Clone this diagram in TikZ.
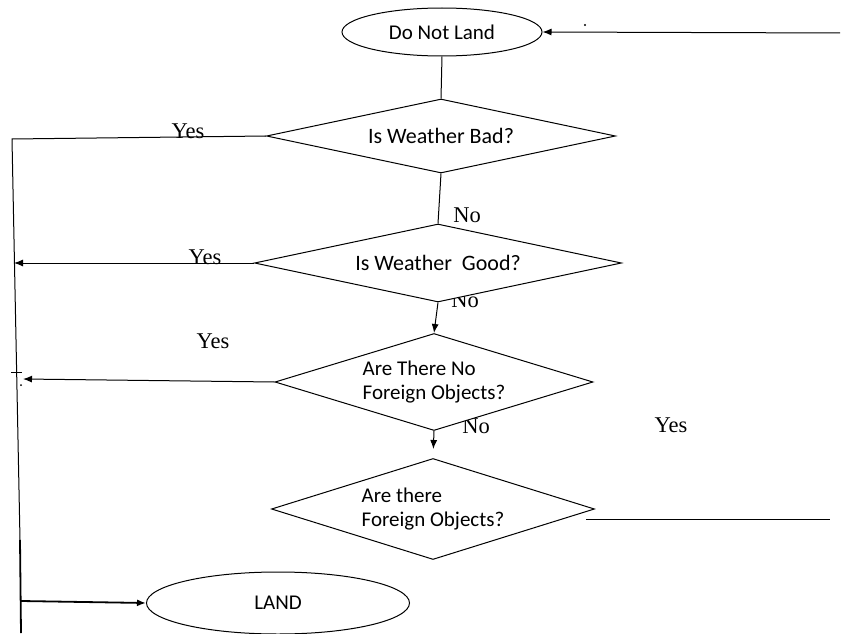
\documentclass[tikz,border=0pt]{standalone}
\usepackage{fontspec}
\setmainfont{Liberation Serif}
\newfontfamily\boxfont{Carlito}
\usetikzlibrary{shapes.geometric, arrows.meta}

\tikzset{
	vopros/.style={diamond, draw, fill=white, aspect=3.3, inner sep=0pt, align=left, font=\boxfont\fontsize{21}{24}\selectfont},
	oval/.style={ellipse, draw, fill=white, inner sep=0pt, font=\boxfont\fontsize{21}{24}\selectfont},
	metka/.style={inner sep=0pt, font=\fontsize{22.5}{26}\selectfont},
	strelka/.style={-{Latex[length=9pt,width=7pt]}}
}

\begin{document}
\begin{tikzpicture}[x=1pt, y=-1pt, line width=1pt]
				\useasboundingbox (0,0) rectangle (841,634);
				
				% Подписи, частично закрытые ромбами
				\node[metka] (no2) at (465,300) {No};
				\node[metka] (no3) at (476,426) {No};
				
				% Овалы и ромбы
				\node[oval, minimum width=200, minimum height=48] (nezemlya) at (442,32) {Do Not Land};
				\node[vopros, minimum width=349, minimum height=74, font=\boxfont\fontsize{22}{24}\selectfont] (v1) at (441,136) {Is Weather Bad?};
				\node[vopros, minimum width=367, minimum height=78, font=\boxfont\fontsize{22}{24}\selectfont] (v2) at (438,263) {Is Weather\ \ Good?};
				\node[vopros, minimum width=318, minimum height=97] (v3) at (434,382) {Are There No\\Foreign Objects?};
				\node[vopros, minimum width=323, minimum height=101] (v4) at (433,509) {Are there\\Foreign Objects?};
				\node[oval, minimum width=263, minimum height=62] (zemlya) at (278,603) {LAND};
				
				% Определение координат концов линий
				\coordinate (vhod) at (840,33);
				\coordinate (verh) at (12,139);
				\coordinate (tochka2) at (14,263);
				\coordinate (tochka3) at (23,379);
				\coordinate (izlom) at (20,540);
				\coordinate (otvod) at (21,601);
				\coordinate (niz) at (21,633);
				\coordinate (vyhod0) at (586,519);
				\coordinate (vyhod) at (830,519);
				
				% Соединительные линии
				\draw[strelka] (vhod) -- (nezemlya.east);
				\draw (nezemlya.south) -- (v1.north);
				\draw (v1.west) -- (verh) -- (izlom);
				\draw[line width=1.8pt] (izlom) -- (niz);
				\draw (v1.south) -- (v2.north);
				\draw[strelka] (v2.west) -- (tochka2);
				\draw[strelka] (v2.south) -- (v3.north);
				\draw[strelka] (v3.west) -- (tochka3);
				\draw[strelka, shorten >=9pt] (v3.south) -- (v4.north);
				\draw (vyhod0) -- (vyhod);
				\draw[strelka, line width=1.8pt] (otvod) -- (zemlya.west);
				
				% Мелкие пометки
				\draw (11,372) -- (22,372);
				\fill (21,385) circle (1);
				\fill (585,25) circle (1.2);
				
				% Подписи ветвей
				\node[metka] (da1) at (188,131) {Yes};
				\node[metka] (no1) at (467,215) {No};
				\node[metka] (da2) at (205,257) {Yes};
				\node[metka] (da3) at (213,341) {Yes};
				\node[metka] (da4) at (671,425) {Yes};
			\end{tikzpicture}
\end{document}
